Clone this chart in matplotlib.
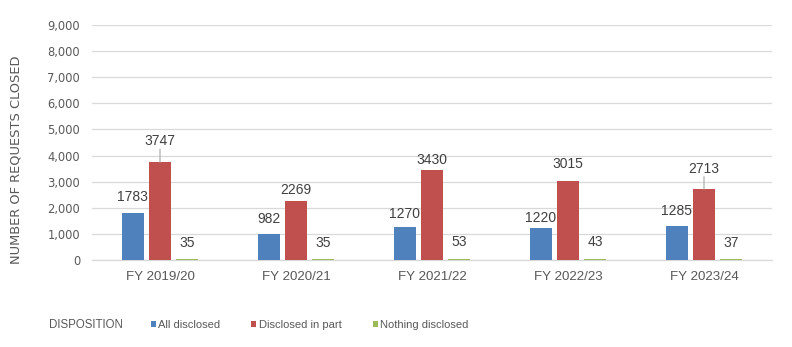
import matplotlib
matplotlib.use("Agg")
import matplotlib.pyplot as plt
import numpy as np

# ---- data ----
categories = ["FY 2019/20", "FY 2020/21", "FY 2021/22", "FY 2022/23", "FY 2023/24"]
series_names = ["All disclosed", "Disclosed in part", "Nothing disclosed"]
all_disclosed = [1783, 982, 1270, 1220, 1285]
disclosed_in_part = [3747, 2269, 3430, 3015, 2713]
nothing_disclosed = [35, 35, 53, 43, 37]
y_ticks = [0, 1000, 2000, 3000, 4000, 5000, 6000, 7000, 8000, 9000]

# ---- style ----
colors = ["#4F81BD", "#C0504D", "#9BBB59"]
# label offsets (pixels above bar top, to text centre) and leader-line flags
label_offsets_px = [
    [16.5, 15.5, 13, 10.5, 15],
    [21, 11, 10.5, 17, 20.5],
    [16.5, 16.5, 16.5, 16.5, 16.5],
]
leader = [
    [False] * 5,
    [True, False, False, False, True],
    [False] * 5,
]

cal = "Liberation Sans"
lab_fs, xt_fs, leg_fs = 10, 9.6, 8

W, H = 792, 347
fig = plt.figure(figsize=(W / 100, H / 100), dpi=100)
ax = fig.add_axes([92 / W, 1 - 260 / H, (772 - 92) / W, (260 - 25) / H])

values = [all_disclosed, disclosed_in_part, nothing_disclosed]
x = np.arange(len(categories))
step, width = 0.2, 0.162
handles = []
for i, (vals, c) in enumerate(zip(values, colors)):
    xs = x + (i - 1) * step
    b = ax.bar(xs, vals, width=width, color=c, zorder=3, label=series_names[i])
    handles.append(b)
    for j, (xx, v) in enumerate(zip(xs, vals)):
        off_pt = label_offsets_px[i][j] * 72 / 100
        ax.annotate(str(v), (xx, v), xytext=(0, off_pt), textcoords="offset points",
                    ha="center", va="center", fontsize=lab_fs, color="#404040",
                    family=cal, zorder=5)
        if leader[i][j]:
            ax.annotate("", (xx, v), xytext=(0, off_pt - 8 * 72 / 100),
                        textcoords="offset points",
                        arrowprops=dict(arrowstyle="-", color="#A6A6A6", lw=0.8,
                                        shrinkA=0, shrinkB=0))

ax.set_xlim(-0.5, len(categories) - 0.5)
ax.set_ylim(0, 9000)
ax.set_yticks(y_ticks)
ax.set_yticklabels([f"{t:,}" for t in y_ticks], fontsize=8.3, color="#595959",
                   family="DejaVu Sans")
ax.set_xticks(x)
ax.set_xticklabels(categories, fontsize=xt_fs, color="#595959", family=cal)
ax.tick_params(axis="both", length=0)
ax.tick_params(axis="y", pad=12 * 72 / 100)
ax.tick_params(axis="x", pad=11 * 72 / 100)
ax.grid(axis="y", color="#D9D9D9", lw=0.9, zorder=0)
for s in ["top", "right", "left"]:
    ax.spines[s].set_visible(False)
ax.spines["bottom"].set_color("#D9D9D9")
ax.spines["bottom"].set_linewidth(0.9)

fig.text(16 / W, 1 - 160 / H, "NUMBER OF REQUESTS CLOSED", rotation=90,
         ha="center", va="center", fontsize=9.4, color="#595959", family="DejaVu Sans")
fig.text(49 / W, 1 - 325 / H, "DISPOSITION", ha="left", va="center",
         fontsize=8.3, color="#595959", family=cal)

leg = fig.legend(handles=handles, labels=series_names, loc="center left",
                 bbox_to_anchor=(151 / W, 1 - 325 / H), ncol=3, frameon=False,
                 borderpad=0, borderaxespad=0, handlelength=0.45, handleheight=0.45,
                 handletextpad=0.2, columnspacing=2.8,
                 prop={"family": cal, "size": leg_fs})
for t in leg.get_texts():
    t.set_color("#595959")

fig.savefig("out.png", dpi=100)
